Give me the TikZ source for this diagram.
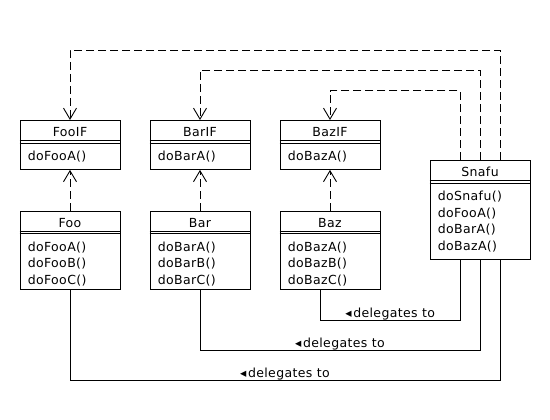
\documentclass[tikz,border=0pt]{standalone}
\usepackage{fontspec}
\setmainfont{DejaVu Sans}[LetterSpace=3]
\usetikzlibrary{arrows.meta}
\tikzset{
  cls/.style={draw, fill=white, line width=0.9pt, minimum width=100pt, inner sep=0pt},
  txt/.style={inner sep=0pt, font=\fontsize{12.5}{17}\selectfont, anchor=base},
  lbl/.style={inner sep=0pt, font=\fontsize{12.5}{17}\selectfont, anchor=base, yshift=3pt},
  dep/.style={line width=0.9pt, dash pattern=on 8pt off 4pt, -{Straight Barb[length=11pt,width=13pt,line width=0.9pt]}},
  assoc/.style={line width=0.9pt},
  sep/.style={line width=0.9pt}
}
\newcommand\umlbox[6]{%
  \node[cls, minimum height=#4, anchor=north] (#1) at (#2,-#3) {};
  \draw[sep] ([yshift=-20.5pt]#1.north west) -- ([yshift=-20.5pt]#1.north east);
  \draw[sep] ([yshift=-23pt]#1.north west) -- ([yshift=-23pt]#1.north east);
  \node[txt] (#1-t) at ([yshift=-16.3pt]#1.north) {#5};
  \foreach \m [count=\i] in {#6} {
    \node[txt, anchor=base west] (#1-m\i) at ([xshift=8pt,yshift={-40.5-16.6*(\i-1)}]#1.north west) {\m};
  }%
}
\begin{document}
\begin{tikzpicture}[x=1pt,y=1pt]
\useasboundingbox (0,0) rectangle (550,-420);
\umlbox{fooif}{70}{120}{49}{FooIF}{doFooA()}
\umlbox{barif}{200}{120}{49}{BarIF}{doBarA()}
\umlbox{bazif}{330}{120}{49}{BazIF}{doBazA()}
\umlbox{snafu}{480}{160}{99}{Snafu}{doSnafu(),doFooA(),doBarA(),doBazA()}
\umlbox{foo}{70}{210.7}{78.6}{Foo}{doFooA(),doFooB(),doFooC()}
\umlbox{bar}{200}{210.7}{78.6}{Bar}{doBarA(),doBarB(),doBarC()}
\umlbox{baz}{330}{210.7}{78.6}{Baz}{doBazA(),doBazB(),doBazC()}
% realizations
\draw[dep] (foo) -- (fooif);
\draw[dep] (bar) -- (barif);
\draw[dep] (baz) -- (bazif);
% snafu realizations
\draw[dep] ([xshift=20pt]snafu.north) -- ++(0,110) -| (fooif.north);
\draw[dep] (snafu.north) -- ++(0,90) -| (barif.north);
\draw[dep] ([xshift=-20pt]snafu.north) -- ++(0,69.3) -| (bazif.north);
% delegation
\draw[assoc] ([xshift=-9.5pt]baz.south) -- ++(0,-30) -| node[lbl, pos=0.25] (l1) {◂\kern1.5pt delegates to} ([xshift=-20pt]snafu.south);
\draw[assoc] (bar.south) -- ++(0,-60.7) -| node[lbl, pos=0.25] (l2) {◂\kern1.5pt delegates to} (snafu.south);
\draw[assoc] (foo.south) -- ++(0,-90.7) -| node[lbl, pos=0.25] (l3) {◂\kern1.5pt delegates to} ([xshift=20pt]snafu.south);
\end{tikzpicture}
\end{document}
